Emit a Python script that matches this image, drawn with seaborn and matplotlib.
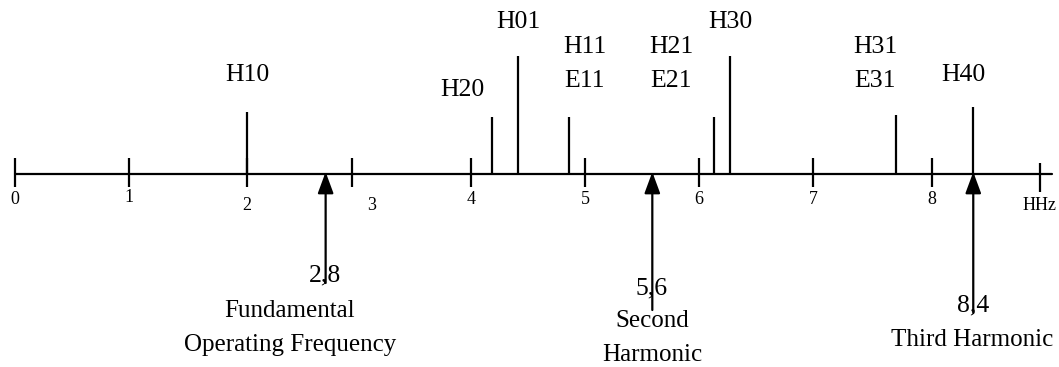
import matplotlib
matplotlib.use("Agg")
import matplotlib.pyplot as plt
import seaborn as sns
import pandas as pd

sns.set_theme(style="white")
plt.rcParams['font.family'] = ['Liberation Serif', 'DejaVu Serif']
plt.rcParams['text.color'] = 'black'

# ---- data (frequency axis in HHz) ----
tick_labels = ["0", "1", "2", "3", "4", "5", "6", "7", "8"]
tick_positions = [0.0, 0.995, 2.02, 2.94, 3.98, 4.97, 5.97, 6.96, 8.0]
unit_label = "HHz"
unit_position = 8.94

mode_labels = ["H10", "H20", "H01", "H11\nE11", "H21\nE21", "H30", "H31\nE31", "H40"]
mode_freqs = [2.02, 4.16, 4.39, 4.83, 6.10, 6.24, 7.69, 8.36]
mode_heights = [62, 57, 118, 57, 57, 118, 59, 67]

harmonic_values = ["2,8", "5,6", "8,4"]
harmonic_positions = [2.71, 5.56, 8.36]
harmonic_names = ["Fundamental\nOperating Frequency", "Second\nHarmonic", "Third Harmonic"]

# ---- layout (pixel-based placement helpers) ----
SCALE = 114.625  # px per unit
X0 = 15
AXIS_PY = 174
W, H = 1059, 367

def fx(px):
    return (px - X0) / SCALE

def fy(py):
    return AXIS_PY - py

fig = plt.figure(figsize=(W / 100, H / 100), dpi=100)
ax = fig.add_axes([0, 0, 1, 1])
ax.set_xlim(fx(0), fx(W))
ax.set_ylim(fy(H), fy(0))
ax.axis("off")

modes = pd.DataFrame({"label": mode_labels, "freq": mode_freqs, "height": mode_heights})

LW = 1.6
# main axis line
sns.lineplot(x=[fx(15), fx(1052)], y=[0, 0], ax=ax, color="black", lw=LW)

# tick marks
ax.vlines(tick_positions, -13, 16, color="black", lw=LW)
ax.vlines([unit_position], fy(192), fy(163), color="black", lw=LW)

# tick labels
tick_label_px = [(15, 200), (129, 198), (247, 206), (372, 205), (471, 200),
                 (585, 200), (699, 200), (813, 200), (932, 200)]
for lab, (px, py) in zip(tick_labels, tick_label_px):
    ax.text(fx(px), fy(py), lab, ha="center", va="center", fontsize=13)
ax.text(fx(1040), fy(205), unit_label, ha="center", va="center", fontsize=13)

# mode lines
ax.vlines(modes["freq"], 0, modes["height"], color="black", lw=LW)

# mode labels (centre positions in px)
mode_label_px = [(247, 75), (462, 90), (518, 22), (585, 64), (671, 64),
                 (730, 22), (875, 64), (963, 75)]
for lab, (px, py) in zip(modes["label"], mode_label_px):
    ax.text(fx(px), fy(py), lab, ha="center", va="center", fontsize=18.5,
            linespacing=1.75)

# harmonic arrows
arrow_bottoms_px = [283, 310, 313]
for x, pyb in zip(harmonic_positions, arrow_bottoms_px):
    ax.annotate("", xy=(x, fy(172)), xytext=(x, fy(pyb)),
                arrowprops=dict(arrowstyle="-|>,head_length=0.65,head_width=0.24",
                                mutation_scale=20, color="black", lw=LW,
                                shrinkA=0, shrinkB=0))

value_px = [(325, 275), (652, 288), (973, 305)]
for v, (px, py) in zip(harmonic_values, value_px):
    ax.text(fx(px), fy(py), v, ha="center", va="center", fontsize=18.5)

name_px = [(290, 328), (652, 338), (972, 340)]
for n, (px, py) in zip(harmonic_names, name_px):
    ax.text(fx(px), fy(py), n, ha="center", va="center", fontsize=18,
            linespacing=1.75)

fig.savefig("out.png", dpi=100, facecolor="white")
